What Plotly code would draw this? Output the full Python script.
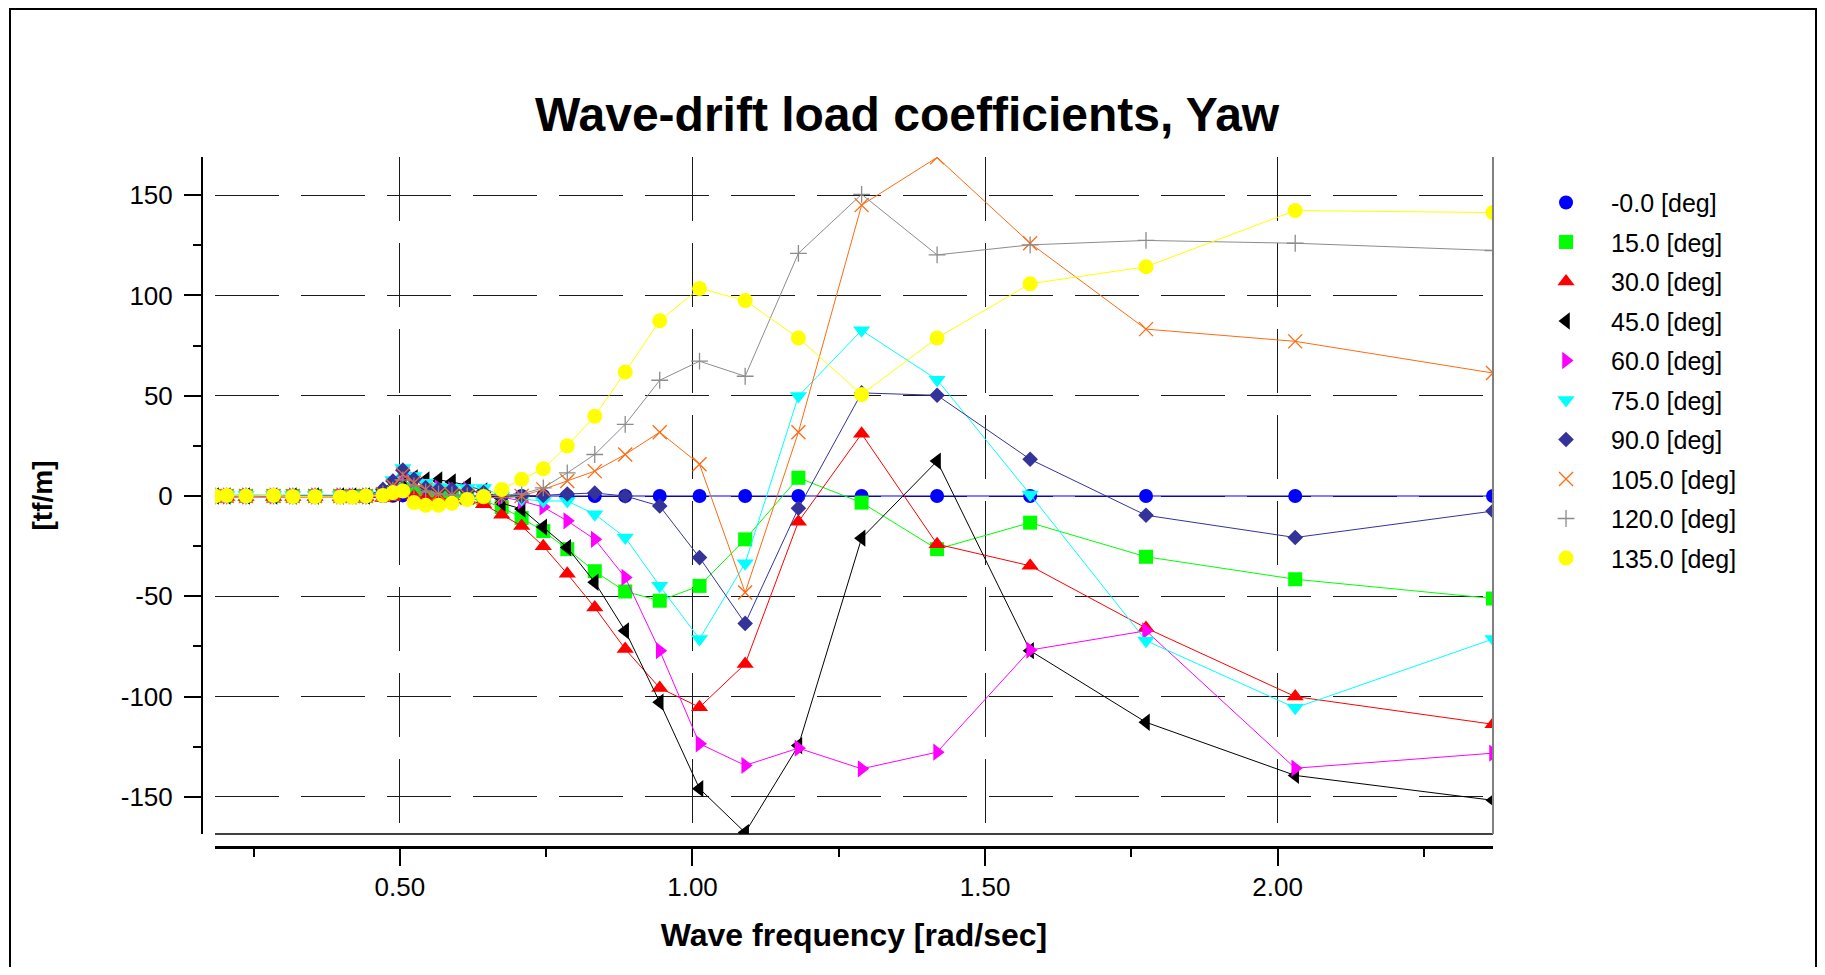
import plotly.graph_objects as go

# ---------------- data ----------------
freq = [0.184, 0.204, 0.237, 0.284, 0.317, 0.355, 0.398, 0.419, 0.442, 0.471,
        0.488, 0.505, 0.524, 0.544, 0.566, 0.589, 0.615, 0.643, 0.674, 0.708,
        0.745, 0.786, 0.833, 0.885, 0.944, 1.012, 1.090, 1.181, 1.289, 1.418,
        1.577, 1.775, 2.030, 2.368]

deg_m0 = [0.0, 0.0, 0.0, 0.0, 0.0, 0.0, 0.0, 0.0, 0.0, 0.0,
          0.1, 0.3, 0.2, 0.1, 0.0, 0.0, 0.0, 0.0, 0.0, 0.0,
          0.0, 0.0, 0.0, 0.0, 0.0, 0.0, 0.0, 0.0, 0.0, 0.0,
          0.0, 0.0, 0.0, 0.0]
deg_15 = [0.0, 0.0, 0.0, 0.0, 0.0, 0.0, 0.0, 0.0, 0.0, 0.5,
          1.0, 3.0, 1.5, 0.5, 0.0, -0.5, -1.0, -2.5, -5.5, -11.0,
          -17.5, -26.5, -37.5, -47.6, -52.2, -44.8, -21.6, 9.1, -3.3, -26.5,
          -13.3, -30.3, -41.5, -51.1]
deg_30 = [-0.5, -0.5, -0.5, -0.5, -0.5, -0.5, -0.5, -0.5, -0.5, -1.0,
          -0.5, 1.0, 0.0, -1.0, -1.0, -1.5, -2.0, -4.1, -9.3, -15.0,
          -25.0, -38.8, -55.6, -76.3, -95.7, -105.3, -83.7, -12.8, 31.0, -24.0,
          -34.8, -65.8, -100.0, -113.8]
deg_45 = [0.0, 0.0, 0.0, 0.0, 0.0, 0.0, 0.0, 0.0, 0.0, 1.0,
          4.0, 9.0, 9.0, 8.0, 8.0, 7.0, 5.3, 2.5, -3.5, -6.5,
          -15.5, -25.7, -43.0, -67.2, -102.8, -145.9, -167.8, -124.4, -21.0, 17.4,
          -77.1, -112.8, -139.3, -151.7]
deg_60 = [0.0, 0.0, 0.0, 0.0, 0.0, 0.0, 0.0, 0.0, 0.0, 1.0,
          5.0, 11.0, 8.0, 5.0, 4.0, 3.0, 3.0, 1.7, -0.5, -2.5,
          -5.5, -12.4, -21.6, -40.6, -77.1, -123.5, -134.3, -125.7, -136.0, -127.7,
          -76.8, -67.2, -135.7, -128.2]
deg_75 = [0.5, 0.5, 0.5, 0.5, 0.5, 0.5, 0.5, 0.5, 0.5, 2.0,
          8.0, 14.0, 10.0, 6.6, 4.5, 4.0, 4.0, 4.0, 0.0, -1.5,
          -2.5, -2.5, -9.1, -20.7, -44.8, -71.3, -33.5, 49.8, 82.6, 58.0,
          0.8, -72.1, -105.6, -71.3]
deg_90 = [0.0, 0.0, 0.0, 0.0, 0.0, 0.0, 0.0, 0.0, 0.0, 3.3,
          7.5, 12.9, 8.3, 4.1, 3.3, 3.3, 2.5, 1.7, 0.0, 0.0,
          0.3, 1.0, 1.5, 0.0, -5.0, -30.7, -63.5, -6.1, 51.4, 50.2,
          18.3, -9.6, -20.7, -7.5]
deg_105 = [0.0, 0.0, 0.0, 0.0, 0.0, 0.0, 0.0, 0.0, 0.0, 1.0,
           5.0, 10.8, 6.6, 3.3, 1.0, 0.5, 0.0, -0.8, -0.8, 0.0,
           3.3, 7.5, 12.4, 20.7, 31.8, 15.8, -48.1, 31.8, 145.0, 168.8,
           126.0, 83.2, 77.1, 61.3]
deg_120 = [0.0, 0.0, 0.0, 0.0, 0.0, 0.0, 0.0, 0.0, 0.0, 1.0,
           3.0, 8.0, 5.0, 2.0, 1.0, 0.5, 0.0, 0.0, 0.5, 1.0,
           4.1, 11.5, 20.7, 35.7, 57.7, 67.2, 59.7, 121.0, 150.4, 120.2,
           125.2, 127.4, 126.0, 122.4]
deg_135 = [0.0, 0.3, 0.0, 0.3, -0.3, -0.3, -0.5, -0.5, 0.0, 0.3,
           1.7, 2.5, -3.3, -4.6, -4.6, -3.6, -1.7, -0.3, 3.3, 8.3,
           13.6, 25.0, 39.8, 61.8, 87.4, 103.5, 97.4, 78.8, 50.6, 78.8,
           105.8, 114.3, 142.3, 141.3]

series_names = ["-0.0 [deg]", "15.0 [deg]", "30.0 [deg]", "45.0 [deg]", "60.0 [deg]",
                "75.0 [deg]", "90.0 [deg]", "105.0 [deg]", "120.0 [deg]", "135.0 [deg]"]
series_values = [deg_m0, deg_15, deg_30, deg_45, deg_60, deg_75, deg_90, deg_105, deg_120, deg_135]

x_tick_vals = [0.5, 1.0, 1.5, 2.0]
x_tick_text = ["0.50", "1.00", "1.50", "2.00"]
x_minor_vals = [0.25, 0.75, 1.25, 1.75, 2.25]
y_tick_vals = [-150, -100, -50, 0, 50, 100, 150]
y_tick_text = ["-150", "-100", "-50", "0", "50", "100", "150"]
y_minor_vals = [-125, -75, -25, 25, 75, 125]

# ---------------- styles ----------------
colors = ["#0000FF", "#00FF00", "#FF0000", "#000000", "#FF00FF",
          "#00FFFF", "#333399", "#FF6A10", "#8C8C8C", "#FFFF00"]
symbols = ["circle", "square", "triangle-up", "triangle-left", "triangle-right",
           "triangle-down", "diamond", "x-thin-open", "cross-thin-open", "circle"]
sizes = [14, 14, 15, 15, 15, 15, 12, 14, 12, 15]

FONT = "Liberation Sans, Arial, sans-serif"

fig = go.Figure()
for name, vals, col, sym, sz in zip(series_names, series_values, colors, symbols, sizes):
    fig.add_trace(go.Scatter(x=freq, y=vals, mode="lines", line=dict(color=col, width=1),
                             legendgroup=name, showlegend=False, hoverinfo="skip"))
    open_sym = sym.endswith("-open")
    fig.add_trace(go.Scatter(x=freq, y=vals, mode="markers", name=name, legendgroup=name,
                             marker=dict(symbol=sym, size=sz, color=col,
                                         line=dict(width=1.3 if open_sym else 0, color=col))))

# geometry (figure is offset by the 8px body margin of the page)
W, H = 1809, 959
L, R, T, B = 194, 324, 149, 120
PW, PH = W - L - R, H - T - B

axis_common = dict(showline=True, linecolor="black", ticks="outside", tickcolor="black",
                   showgrid=True, gridcolor="#1a1a1a", gridwidth=1, griddash="64px,22px",
                   zeroline=False, tickfont=dict(family=FONT, size=26, color="black"))

fig.update_layout(
    width=W, height=H,
    margin=dict(l=L, r=R, t=T, b=B, autoexpand=False),
    paper_bgcolor="white", plot_bgcolor="white",
    font=dict(family=FONT, color="black", size=25),
    title=dict(text="<b>Wave-drift load coefficients, Yaw</b>", x=0.497, xref="container",
               xanchor="center", y=1 - 106 / H, yref="container", yanchor="middle",
               font=dict(family=FONT, size=48, color="black")),
    xaxis=dict(axis_common, range=[0.184, 2.368], domain=[13 / PW, 1], anchor="free", position=0,
               linewidth=3, tickwidth=2, ticklen=17, tickvals=x_tick_vals, ticktext=x_tick_text,
               ticklabelstandoff=-1,
               minor=dict(tickvals=x_minor_vals, ticklen=8, tickwidth=2, tickcolor="black",
                          ticks="outside", showgrid=False),
               title=dict(text="<b>Wave frequency [rad/sec]</b>", standoff=22,
                          font=dict(family=FONT, size=32, color="black"))),
    yaxis=dict(axis_common, range=[-168.5, 169], domain=[13 / PH, 1], anchor="free", position=0,
               linewidth=2, tickwidth=2, ticklen=17, tickvals=y_tick_vals, ticktext=y_tick_text,
               ticklabelstandoff=6,
               minor=dict(tickvals=y_minor_vals, ticklen=8, tickwidth=2, tickcolor="black",
                          ticks="outside", showgrid=False),
               title=dict(text="<b>[tf/m]</b>", standoff=59,
                          font=dict(family=FONT, size=28, color="black"))),
    legend=dict(x=1.0217, xanchor="left", y=0.967, yanchor="top", itemwidth=80,
                tracegroupgap=4, bgcolor="rgba(0,0,0,0)", borderwidth=0,
                font=dict(family=FONT, size=25, color="black")),
    shapes=[
        dict(type="rect", xref="paper", yref="paper", x0=(2 - L) / PW, x1=(1808 - L) / PW,
             y0=(H - B - 990) / PH, y1=(H - B - 1) / PH, line=dict(color="black", width=2),
             fillcolor="rgba(0,0,0,0)"),
        dict(type="line", xref="x domain", yref="y domain", x0=0, x1=1, y0=0, y1=0,
             line=dict(color="black", width=1.5)),
        dict(type="line", xref="x domain", yref="y domain", x0=1, x1=1, y0=0, y1=1,
             line=dict(color="#808080", width=2)),
    ],
)

fig.write_html("out.html")
